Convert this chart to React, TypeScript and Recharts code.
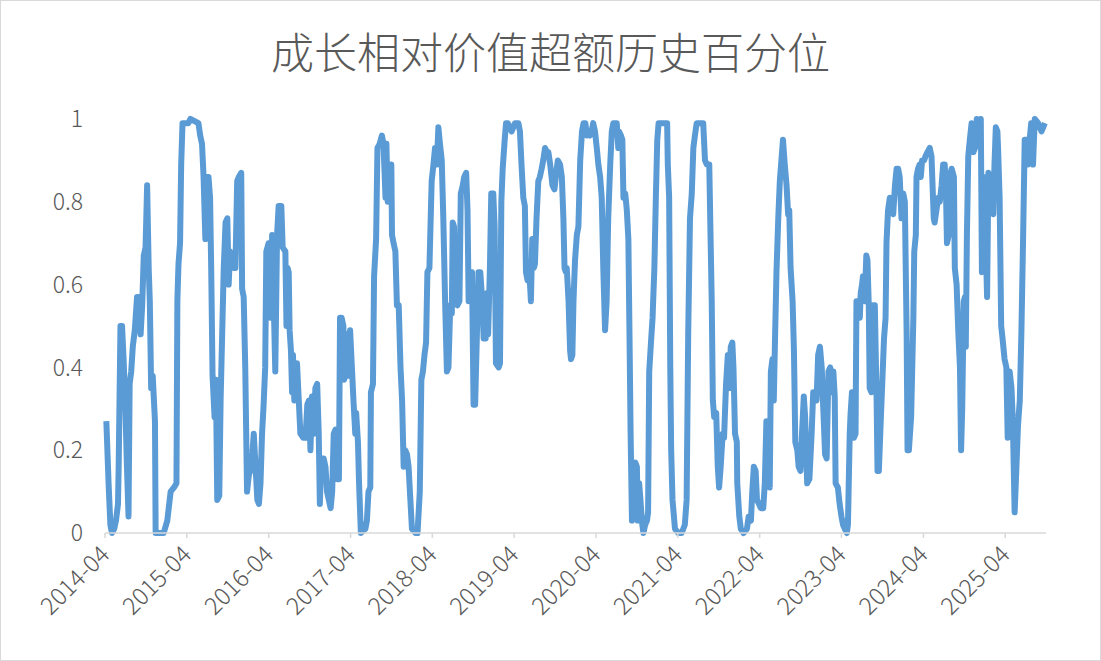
import { LineChart, Line, XAxis, YAxis } from 'recharts'

const TITLE = '成长相对价值超额历史百分位'

const dates = [
  '2014-04-07', '2014-04-17', '2014-04-25', '2014-05-02', '2014-05-12', '2014-05-20', '2014-05-29', '2014-06-01',
  '2014-06-09', '2014-06-16', '2014-06-23', '2014-06-30', '2014-07-08', '2014-07-15', '2014-07-20', '2014-07-27',
  '2014-08-03', '2014-08-12', '2014-08-22', '2014-08-29', '2014-09-07', '2014-09-14', '2014-09-21', '2014-09-29',
  '2014-10-06', '2014-10-13', '2014-10-18', '2014-10-24', '2014-10-31', '2014-11-10', '2014-11-13', '2014-12-19',
  '2015-01-04', '2015-01-19', '2015-02-03', '2015-02-14', '2015-02-18', '2015-02-23', '2015-03-02', '2015-03-07',
  '2015-03-13', '2015-04-08', '2015-04-17', '2015-05-23', '2015-05-31', '2015-06-08', '2015-06-15', '2015-06-23',
  '2015-06-30', '2015-07-07', '2015-07-14', '2015-07-19', '2015-07-25', '2015-08-03', '2015-08-09', '2015-08-15',
  '2015-08-24', '2015-08-30', '2015-09-06', '2015-09-13', '2015-09-21', '2015-09-29', '2015-10-05', '2015-10-11',
  '2015-10-17', '2015-10-27', '2015-11-04', '2015-11-12', '2015-11-19', '2015-11-30', '2015-12-04', '2015-12-11',
  '2015-12-18', '2015-12-26',
  '2016-01-03', '2016-01-15', '2016-01-25', '2016-02-02', '2016-02-10', '2016-02-17', '2016-02-24', '2016-03-02',
  '2016-03-09', '2016-03-16', '2016-03-21', '2016-03-31', '2016-04-08', '2016-04-16', '2016-04-23', '2016-04-30',
  '2016-05-08', '2016-05-15', '2016-05-27', '2016-06-02', '2016-06-14', '2016-06-19', '2016-06-24', '2016-06-29',
  '2016-07-03', '2016-07-09', '2016-07-14', '2016-07-18', '2016-07-24', '2016-07-28', '2016-08-05', '2016-08-13',
  '2016-08-20', '2016-09-02', '2016-09-12', '2016-09-20', '2016-09-27', '2016-10-04', '2016-10-11', '2016-10-19',
  '2016-10-26', '2016-11-03', '2016-11-10', '2016-11-15', '2016-11-21', '2016-12-02', '2016-12-10', '2016-12-17',
  '2017-01-02', '2017-01-09', '2017-01-16', '2017-01-24', '2017-02-01', '2017-02-08', '2017-02-13', '2017-02-20',
  '2017-02-28', '2017-03-03', '2017-03-09', '2017-03-15', '2017-03-22', '2017-03-30', '2017-04-07', '2017-04-14',
  '2017-04-22', '2017-04-26', '2017-05-04', '2017-05-09', '2017-05-17', '2017-06-06', '2017-06-13', '2017-06-20',
  '2017-06-28', '2017-07-01', '2017-07-10', '2017-07-15', '2017-07-24', '2017-07-30', '2017-08-09', '2017-08-19',
  '2017-08-26', '2017-09-04', '2017-09-08', '2017-09-14', '2017-09-18', '2017-09-26', '2017-09-30', '2017-10-03',
  '2017-10-10', '2017-10-18', '2017-10-25', '2017-11-02', '2017-11-10', '2017-11-17', '2017-11-24', '2017-12-01',
  '2017-12-09', '2017-12-16', '2017-12-24', '2017-12-31',
  '2018-01-16', '2018-01-25', '2018-02-04', '2018-02-11', '2018-02-18', '2018-02-25', '2018-03-04', '2018-03-10',
  '2018-03-19', '2018-03-29', '2018-04-06', '2018-04-13', '2018-04-21', '2018-04-28', '2018-05-05', '2018-05-13',
  '2018-05-20', '2018-05-28', '2018-06-05', '2018-06-12', '2018-06-20', '2018-06-27', '2018-07-01', '2018-07-07',
  '2018-07-16', '2018-07-22', '2018-07-31', '2018-08-06', '2018-08-15', '2018-08-21', '2018-08-30', '2018-09-05',
  '2018-09-10', '2018-09-17', '2018-09-25', '2018-10-02', '2018-10-09', '2018-10-17', '2018-10-24', '2018-11-01',
  '2018-11-10', '2018-11-16', '2018-11-25', '2018-12-02', '2018-12-06', '2018-12-14', '2018-12-20', '2018-12-29',
  '2019-01-04', '2019-01-10', '2019-01-22', '2019-01-28', '2019-02-03', '2019-02-09', '2019-02-18', '2019-02-24',
  '2019-03-04', '2019-03-21', '2019-04-05', '2019-04-20', '2019-04-27', '2019-05-04', '2019-05-12', '2019-05-19',
  '2019-05-24', '2019-05-31', '2019-06-07', '2019-06-15', '2019-06-21', '2019-06-28', '2019-07-03', '2019-07-10',
  '2019-07-18', '2019-07-25', '2019-08-02', '2019-08-09', '2019-08-17', '2019-08-25', '2019-09-01', '2019-09-09',
  '2019-09-19', '2019-09-28', '2019-10-04', '2019-10-13', '2019-10-23', '2019-10-31', '2019-11-07', '2019-11-12',
  '2019-11-18', '2019-11-22', '2019-11-30', '2019-12-07', '2019-12-11', '2019-12-17', '2019-12-22', '2019-12-29',
  '2020-01-06', '2020-01-13', '2020-01-21', '2020-01-29', '2020-02-05', '2020-02-13', '2020-02-20', '2020-02-27',
  '2020-03-05', '2020-03-12', '2020-03-19', '2020-03-27', '2020-04-04', '2020-04-11', '2020-04-19', '2020-04-26',
  '2020-05-03', '2020-05-11', '2020-05-18', '2020-05-25', '2020-06-03', '2020-06-10', '2020-06-17', '2020-07-02',
  '2020-07-09', '2020-07-12', '2020-07-21', '2020-07-27', '2020-08-01', '2020-08-09', '2020-08-16', '2020-08-23',
  '2020-08-28', '2020-09-02', '2020-09-08', '2020-09-15', '2020-09-23', '2020-09-30', '2020-10-04', '2020-10-10',
  '2020-10-16', '2020-10-22', '2020-10-29', '2020-11-06', '2020-11-14', '2020-11-19', '2020-11-24', '2020-12-03',
  '2020-12-09', '2020-12-17', '2020-12-24', '2020-12-30',
  '2021-01-05', '2021-02-12', '2021-02-15', '2021-02-21', '2021-02-26', '2021-03-02', '2021-03-08', '2021-03-19',
  '2021-04-03', '2021-04-18', '2021-05-02', '2021-05-10', '2021-05-17', '2021-05-25', '2021-06-02', '2021-06-09',
  '2021-06-16', '2021-06-24', '2021-07-23', '2021-07-31', '2021-08-08', '2021-08-19', '2021-08-26', '2021-08-30',
  '2021-09-04', '2021-09-10', '2021-09-19', '2021-09-26', '2021-10-02', '2021-10-09', '2021-10-18', '2021-10-24',
  '2021-11-02', '2021-11-10', '2021-11-16', '2021-11-23', '2021-11-30', '2021-12-05', '2021-12-12', '2021-12-20',
  '2021-12-22', '2021-12-31',
  '2022-01-07', '2022-01-19', '2022-02-03', '2022-02-11', '2022-02-21', '2022-02-27', '2022-03-06', '2022-03-14',
  '2022-03-20', '2022-03-29', '2022-04-06', '2022-04-17', '2022-04-24', '2022-05-01', '2022-05-08', '2022-05-16',
  '2022-05-21', '2022-05-28', '2022-06-03', '2022-06-09', '2022-06-15', '2022-06-23', '2022-06-30', '2022-07-07',
  '2022-07-14', '2022-07-22', '2022-07-30', '2022-08-06', '2022-08-11', '2022-08-17', '2022-08-26', '2022-09-01',
  '2022-09-07', '2022-09-16', '2022-09-22', '2022-09-30', '2022-10-07', '2022-10-15', '2022-10-21', '2022-10-30',
  '2022-11-09', '2022-11-19', '2022-11-26', '2022-12-04', '2022-12-11', '2022-12-18', '2022-12-26',
  '2023-01-03', '2023-01-10', '2023-01-18', '2023-01-25', '2023-02-02', '2023-02-10', '2023-02-17', '2023-02-24',
  '2023-03-02', '2023-03-06', '2023-03-16', '2023-03-24', '2023-04-01', '2023-04-08', '2023-04-16', '2023-04-25',
  '2023-04-30', '2023-05-08', '2023-05-12', '2023-05-18', '2023-05-27', '2023-06-03', '2023-06-07', '2023-06-14',
  '2023-06-22', '2023-06-26', '2023-07-02', '2023-07-06', '2023-07-14', '2023-07-21', '2023-07-26', '2023-08-01',
  '2023-08-05', '2023-08-13', '2023-08-20', '2023-08-28', '2023-09-05', '2023-09-09', '2023-09-15', '2023-09-24',
  '2023-09-30', '2023-10-08', '2023-10-15', '2023-10-19', '2023-10-26', '2023-11-03', '2023-11-11', '2023-11-18',
  '2023-11-26', '2023-12-03', '2023-12-10', '2023-12-17', '2023-12-25',
  '2024-01-02', '2024-01-09', '2024-01-12', '2024-01-17', '2024-01-21', '2024-01-27', '2024-02-06', '2024-02-11',
  '2024-02-16', '2024-02-20', '2024-02-27', '2024-03-01', '2024-03-08', '2024-03-15', '2024-03-20', '2024-03-26',
  '2024-04-04', '2024-04-10', '2024-04-19', '2024-04-29', '2024-05-07', '2024-05-11', '2024-05-17', '2024-05-21',
  '2024-05-29', '2024-06-06', '2024-06-13', '2024-06-21', '2024-06-28', '2024-07-05', '2024-07-10', '2024-07-15',
  '2024-07-23', '2024-07-27', '2024-08-05', '2024-08-10', '2024-08-15', '2024-08-19', '2024-08-27', '2024-09-04',
  '2024-09-11', '2024-09-16', '2024-09-21', '2024-09-28', '2024-10-03', '2024-10-07', '2024-10-12', '2024-10-18',
  '2024-10-25', '2024-11-02', '2024-11-10', '2024-11-17', '2024-11-25', '2024-12-05', '2024-12-13', '2024-12-18',
  '2024-12-24', '2024-12-28',
  '2025-01-04', '2025-01-10', '2025-01-16', '2025-01-23', '2025-01-31', '2025-02-07', '2025-02-12', '2025-02-18',
  '2025-02-25', '2025-02-28', '2025-03-07', '2025-03-14', '2025-03-20', '2025-03-29', '2025-04-06', '2025-04-12',
  '2025-04-21', '2025-04-29', '2025-05-05', '2025-05-13', '2025-05-21', '2025-05-28', '2025-06-05', '2025-06-12',
  '2025-06-20', '2025-06-27', '2025-07-04', '2025-07-11', '2025-07-19', '2025-07-26', '2025-08-03', '2025-08-11',
  '2025-08-26', '2025-09-10', '2025-09-25',
]

const percentile = [
  0.27, 0.12, 0.02, 0, 0.01, 0.03, 0.07, 0.16,
  0.5, 0.5, 0.42, 0.32, 0.16, 0.04, 0.36, 0.39,
  0.45, 0.49, 0.57, 0.57, 0.48, 0.55, 0.67, 0.69,
  0.84, 0.64, 0.56, 0.35, 0.38, 0.27, 0, 0,
  0.03, 0.1, 0.11, 0.12, 0.56, 0.65, 0.7, 0.89,
  0.99, 0.99, 1, 0.99, 0.96, 0.94, 0.86, 0.71,
  0.86, 0.86, 0.81, 0.64, 0.38, 0.28, 0.37, 0.08,
  0.09, 0.32, 0.48, 0.64, 0.75, 0.76, 0.6, 0.68,
  0.67, 0.64, 0.64, 0.85, 0.86, 0.87, 0.59, 0.57,
  0.4, 0.1,
  0.14, 0.16, 0.24, 0.16, 0.08, 0.07, 0.12, 0.24,
  0.31, 0.4, 0.68, 0.7, 0.52, 0.72, 0.56, 0.39,
  0.72, 0.79, 0.79, 0.69, 0.68, 0.5, 0.64, 0.63,
  0.49, 0.44, 0.34, 0.43, 0.32, 0.4, 0.41, 0.32,
  0.24, 0.23, 0.23, 0.31, 0.32, 0.2, 0.33, 0.24,
  0.35, 0.36, 0.24, 0.07, 0.18, 0.18, 0.16, 0.1,
  0.06, 0.1, 0.24, 0.25, 0.13, 0.13, 0.52, 0.52,
  0.5, 0.37, 0.38, 0.48, 0.38, 0.49, 0.4, 0.32,
  0.24, 0.29, 0.22, 0.12, 0, 0.01, 0.03, 0.1,
  0.11, 0.34, 0.36, 0.62, 0.71, 0.93, 0.94, 0.96,
  0.94, 0.81, 0.94, 0.8, 0.89, 0.88, 0.89, 0.72,
  0.7, 0.68, 0.55, 0.55, 0.4, 0.32, 0.16, 0.2,
  0.19, 0.16, 0.08, 0.01,
  0, 0, 0.1, 0.37, 0.39, 0.43, 0.46, 0.63,
  0.64, 0.85, 0.89, 0.93, 0.89, 0.98, 0.94, 0.9,
  0.76, 0.56, 0.39, 0.4, 0.55, 0.53, 0.75, 0.74,
  0.56, 0.55, 0.56, 0.82, 0.84, 0.86, 0.87, 0.78,
  0.56, 0.59, 0.63, 0.31, 0.31, 0.48, 0.63, 0.63,
  0.56, 0.47, 0.47, 0.58, 0.48, 0.64, 0.82, 0.82,
  0.74, 0.41, 0.4, 0.41, 0.8, 0.88, 0.95, 0.99,
  0.99, 0.97, 0.99, 0.99, 0.97, 0.89, 0.81, 0.79,
  0.63, 0.61, 0.64, 0.56, 0.71, 0.64, 0.65, 0.76,
  0.85, 0.86, 0.88, 0.9, 0.93, 0.92, 0.92, 0.89,
  0.84, 0.83, 0.86, 0.9, 0.89, 0.86, 0.76, 0.64,
  0.63, 0.64, 0.56, 0.44, 0.42, 0.43, 0.56, 0.66,
  0.72, 0.74, 0.9, 0.97, 0.99, 0.99, 0.96, 0.97,
  0.96, 0.97, 0.99, 0.97, 0.93, 0.89, 0.86, 0.81,
  0.64, 0.49, 0.56, 0.76, 0.89, 0.97, 0.99, 0.99,
  0.93, 0.97, 0.96, 0.95, 0.81, 0.82, 0.78, 0.71,
  0.48, 0.24, 0.03, 0.16, 0.17, 0.16, 0.03, 0.12,
  0.08, 0.03, 0, 0.02, 0.03, 0.05, 0.39, 0.47,
  0.52, 0.64, 0.82, 0.95,
  0.99, 0.99, 0.89, 0.81, 0.4, 0.2, 0.08, 0.01,
  0, 0, 0.02, 0.08, 0.48, 0.76, 0.82, 0.93,
  0.96, 0.99, 0.99, 0.9, 0.89, 0.89, 0.68, 0.56,
  0.32, 0.28, 0.29, 0.16, 0.11, 0.16, 0.24, 0.23,
  0.36, 0.43, 0.35, 0.45, 0.46, 0.4, 0.24, 0.22,
  0.12, 0.04,
  0.01, 0, 0.01, 0.04, 0.03, 0.1, 0.16, 0.15,
  0.08, 0.07, 0.06, 0.06, 0.12, 0.27, 0.23, 0.11,
  0.39, 0.42, 0.32, 0.48, 0.63, 0.76, 0.85, 0.9,
  0.95, 0.89, 0.84, 0.77, 0.78, 0.64, 0.56, 0.44,
  0.22, 0.2, 0.16, 0.15, 0.24, 0.33, 0.28, 0.12,
  0.13, 0.24, 0.34, 0.34, 0.32, 0.43, 0.45,
  0.4, 0.3, 0.19, 0.18, 0.39, 0.4, 0.34, 0.39,
  0.33, 0.12, 0.11, 0.07, 0.04, 0.02, 0.01, 0,
  0.02, 0.24, 0.29, 0.34, 0.23, 0.24, 0.56, 0.56,
  0.52, 0.58, 0.6, 0.62, 0.56, 0.67, 0.66, 0.55,
  0.35, 0.34, 0.55, 0.55, 0.32, 0.15, 0.15, 0.28,
  0.36, 0.47, 0.52, 0.7, 0.78, 0.81, 0.79, 0.77,
  0.84, 0.88, 0.88, 0.86, 0.76,
  0.82, 0.8, 0.68, 0.48, 0.2, 0.2, 0.28, 0.4,
  0.52, 0.68, 0.72, 0.86, 0.88, 0.89, 0.86, 0.9,
  0.9, 0.91, 0.92, 0.93, 0.91, 0.85, 0.76, 0.75,
  0.78, 0.81, 0.8, 0.84, 0.89, 0.89, 0.84, 0.7,
  0.72, 0.86, 0.88, 0.87, 0.86, 0.64, 0.6, 0.48,
  0.4, 0.2, 0.3, 0.56, 0.57, 0.45, 0.72, 0.91,
  0.95, 0.99, 0.92, 0.93, 1, 0.98, 1, 0.63,
  0.68, 0.86,
  0.7, 0.57, 0.87, 0.86, 0.78, 0.77, 0.89, 0.98,
  0.97, 0.93, 0.81, 0.5, 0.47, 0.42, 0.4, 0.23,
  0.39, 0.35, 0.27, 0.05, 0.16, 0.26, 0.32, 0.48,
  0.72, 0.95, 0.95, 0.89, 0.95, 0.99, 0.89, 1,
  0.99, 0.97, 0.99,
]

const tickLabels = [
  '2014-04', '2015-04', '2016-04', '2017-04', '2018-04', '2019-04',
  '2020-04', '2021-04', '2022-04', '2023-04', '2024-04', '2025-04',
]
const yTicks = [0, 0.2, 0.4, 0.6, 0.8, 1]

const toTime = (s: string) => {
  const [y, m, d] = s.split('-').map(Number)
  return Date.UTC(y, m - 1, d || 1)
}

const data = dates.map((d, i) => ({ t: toTime(d), v: percentile[i] }))
const xTicks = tickLabels.map(toTime)
const X_START = toTime('2014-04-01')
const X_END = toTime('2025-09-30')

const FONT = '"Noto Sans CJK SC", "Noto Sans", sans-serif'
const TEXT = '#595959'
const AXIS = '#d9d9d9'
const BLUE = '#5b9bd5'
const PLOT_LEFT = 104

function fmtMonth(t: number) {
  const d = new Date(t)
  return `${d.getUTCFullYear()}-${String(d.getUTCMonth() + 1).padStart(2, '0')}`
}

function XTick({ x, y, payload }: { x?: number; y?: number; payload?: { value: number } }) {
  if (x == null || y == null || !payload) return null
  const ax = x + 6
  return (
    <text
      x={ax}
      y={y}
      transform={`rotate(-45 ${ax} ${y})`}
      textAnchor="end"
      fill={TEXT}
      fontSize={24}
      fontWeight={300}
      fontFamily={FONT}
    >
      {fmtMonth(payload.value)}
    </text>
  )
}

// label sits a fixed distance left of the plot, whatever x recharts hands in
function YTick({ y, payload }: { y?: number; payload?: { value: number } }) {
  if (y == null || !payload) return null
  return (
    <text
      x={PLOT_LEFT - 22}
      y={y}
      dy="0.36em"
      textAnchor="end"
      fill={TEXT}
      fontSize={23}
      fontWeight={300}
      fontFamily={FONT}
    >
      {String(Number(payload.value.toFixed(1)))}
    </text>
  )
}

export default function App() {
  return (
    <div style={{
      position: 'absolute', left: 0, top: 0, width: 1101, height: 661,
      boxSizing: 'border-box', border: `1px solid ${AXIS}`, background: '#fff',
    }}>
      <div style={{
        position: 'absolute', left: 0, right: 0, top: 28, textAlign: 'center',
        fontFamily: FONT, fontSize: 43, fontWeight: 300, lineHeight: '43px', color: TEXT,
      }}>
        {TITLE}
      </div>
      <LineChart
        width={1099}
        height={659}
        data={data}
        margin={{ top: 118, right: 54, left: 0, bottom: 27 }}
      >
        <XAxis
          type="number"
          dataKey="t"
          domain={[X_START, X_END]}
          ticks={xTicks}
          tick={<XTick />}
          stroke={AXIS}
          strokeWidth={1.5}
          tickSize={5}
          tickMargin={18}
          height={100}
          interval={0}
        />
        <YAxis
          domain={[0, 1]}
          ticks={yTicks}
          width={PLOT_LEFT}
          axisLine={false}
          tickLine={false}
          tick={<YTick />}
        />
        <Line
          type="linear"
          dataKey="v"
          stroke={BLUE}
          strokeWidth={6}
          strokeLinejoin="round"
          dot={false}
          isAnimationActive={false}
        />
      </LineChart>
    </div>
  )
}
